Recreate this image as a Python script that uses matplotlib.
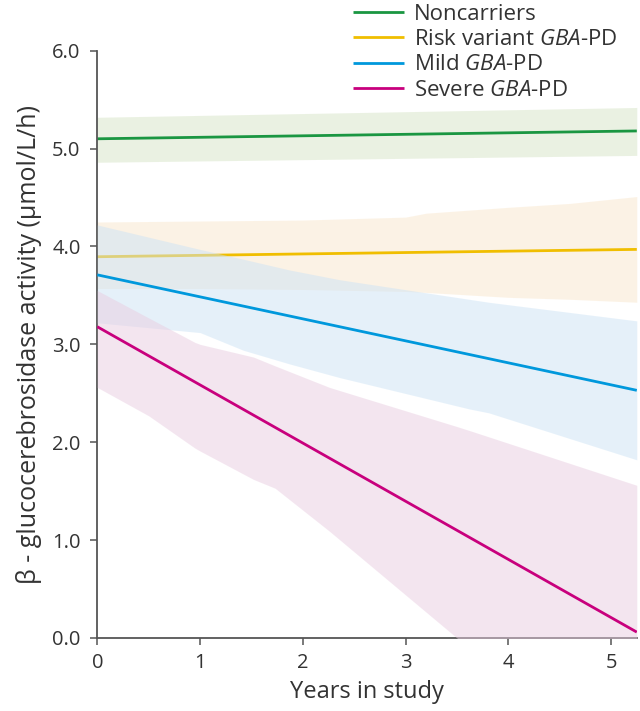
import matplotlib
matplotlib.use("Agg")
import matplotlib.pyplot as plt
import numpy as np

plt.rcParams['font.family'] = ['Open Sans', 'DejaVu Sans']
plt.rcParams['mathtext.fontset'] = 'custom'
plt.rcParams['mathtext.rm'] = 'Open Sans'
plt.rcParams['mathtext.it'] = 'Open Sans:italic'

# --- data ---
labels = ['Noncarriers', r'Risk variant $\it{GBA}$-PD', r'Mild $\it{GBA}$-PD', r'Severe $\it{GBA}$-PD']

# fitted lines (start, end)
line_x = [0, 5.25]
noncarrier_line = [5.10, 5.18]
risk_line = [3.895, 3.97]
mild_line = [3.71, 2.53]
severe_line = [3.18, 0.06]

# confidence bands
noncarrier_ci_x = [0, 5.25]
noncarrier_lo = [4.86, 4.93]
noncarrier_hi = [5.32, 5.42]

risk_ci_x = [0, 1, 2, 3, 3.2, 4, 4.6, 5.25]
risk_lo = [3.57, 3.57, 3.56, 3.54, 3.53, 3.48, 3.46, 3.43]
risk_hi = [4.25, 4.26, 4.27, 4.30, 4.34, 4.40, 4.44, 4.51]

mild_ci_x = [0, 1, 1.42, 1.87, 2.36, 3.62, 3.81, 5.25]
mild_lo = [3.22, 3.12, 2.94, 2.80, 2.66, 2.34, 2.30, 1.82]
mild_hi = [4.22, 3.97, 3.87, 3.76, 3.66, 3.46, 3.43, 3.24]

severe_ci_x = [0, 0.5, 0.95, 1.0, 1.52, 1.73, 2.26, 3.5, 3.62, 5.25]
severe_lo = [2.56, 2.27, 1.94, 1.91, 1.62, 1.53, 1.09, 0.0, -0.10, -1.55]
severe_hi = [3.55, 3.27, 3.02, 3.00, 2.87, 2.78, 2.56, 2.16, 2.12, 1.56]

line_colors = ['#1a9641', '#f0be00', '#0098dc', '#c8007d']
band_colors = ['#d7e5c7', '#f9e7cd', '#cde3f5', '#e9cde1']

fig = plt.figure(figsize=(6.4, 7.11), dpi=100)
ax = fig.add_axes([0.152, 0.1027, 0.843, 0.826])

groups = [
    (noncarrier_ci_x, noncarrier_lo, noncarrier_hi, noncarrier_line),
    (risk_ci_x, risk_lo, risk_hi, risk_line),
    (mild_ci_x, mild_lo, mild_hi, mild_line),
    (severe_ci_x, severe_lo, severe_hi, severe_line),
]

z = 1
for (cx, lo, hi, ln), lab, lc, bc in zip(groups, labels, line_colors, band_colors):
    ax.fill_between(cx, lo, hi, color=bc, alpha=0.5, linewidth=0, zorder=z)
    ax.plot(line_x, ln, color=lc, lw=2.0, label=lab, zorder=z + 0.5,
            solid_capstyle='butt')
    z += 1

ax.set_xlim(0, 5.25)
ax.set_ylim(0, 6)
ax.set_xticks([0, 1, 2, 3, 4, 5])
ax.set_yticks([0, 1, 2, 3, 4, 5, 6])
ax.set_yticklabels([f'{v:.1f}' for v in range(7)])

for s in ['top', 'right']:
    ax.spines[s].set_visible(False)
for s in ['left', 'bottom']:
    ax.spines[s].set_color('#555555')
    ax.spines[s].set_linewidth(1.3)
ax.tick_params(axis='both', colors='#555555', labelcolor='#333333',
               labelsize=14.5, length=5, width=1.1, direction='out')
ax.tick_params(axis='x', pad=6)
ax.tick_params(axis='y', pad=7)

ax.set_xlabel('Years in study', fontsize=17, color='#333333', labelpad=5)
ax.set_ylabel('β - glucocerebrosidase activity (µmol/L/h)', fontsize=18,
              color='#333333', labelpad=7)

leg = ax.legend(loc='upper left', bbox_to_anchor=(0.551, 0.995), bbox_transform=fig.transFigure,
                frameon=False, fontsize=16, handlelength=2.3, handletextpad=0.45,
                labelspacing=0.2, borderaxespad=0, borderpad=0.0)
for t in leg.get_texts():
    t.set_color('#333333')

fig.savefig('out.png', dpi=100)
